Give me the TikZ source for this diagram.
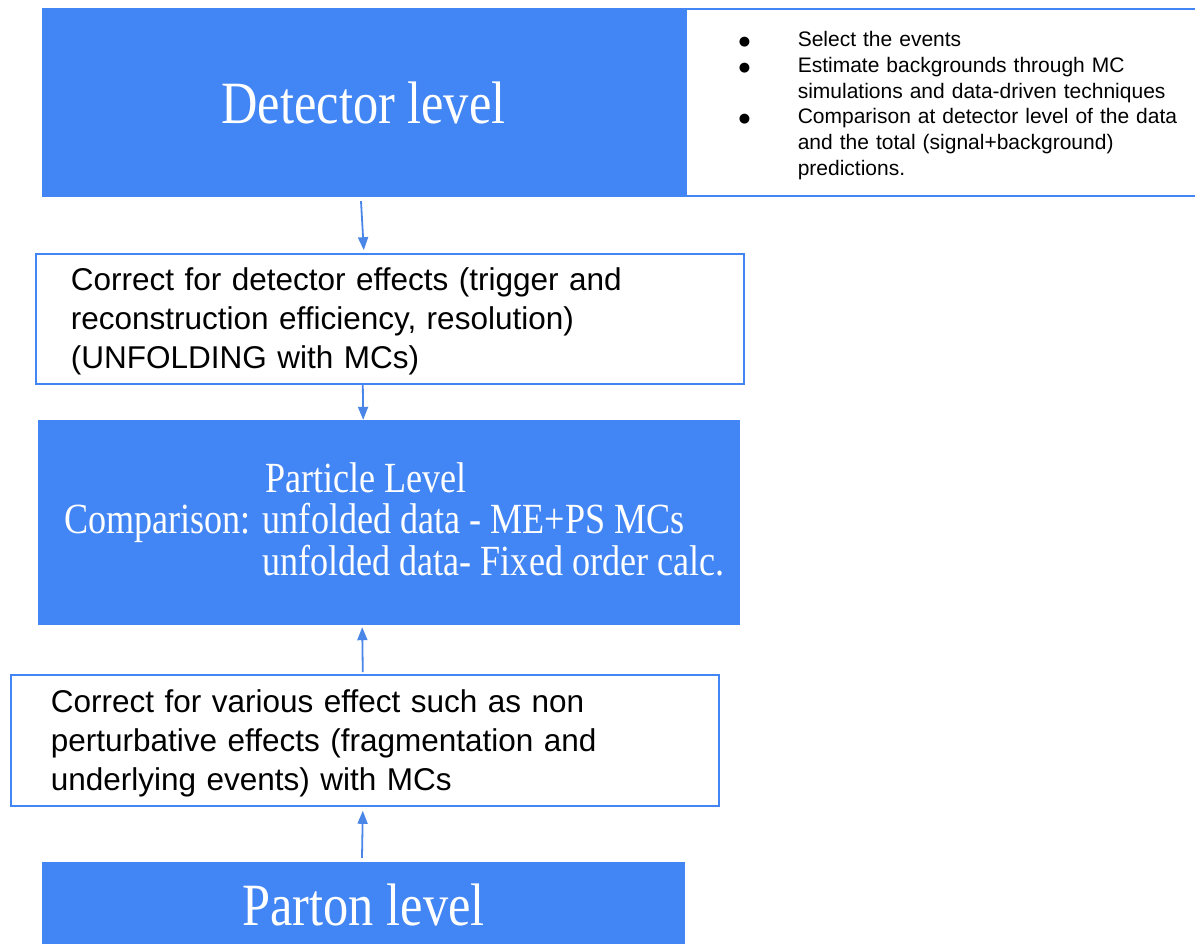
\documentclass[tikz,border=0pt]{standalone}
\usepackage{fontspec}
\setmainfont{Liberation Sans}
\newfontfamily\titlefont[FakeStretch=0.84]{Liberation Serif}
\newfontfamily\symfont{DejaVu Sans}
\usetikzlibrary{arrows.meta}
\definecolor{gblue}{RGB}{66,133,244}
\definecolor{ablue}{RGB}{74,134,232}
\newcommand{\bul}{\makebox[59pt][l]{\raisebox{1pt}{\symfont\fontsize{13}{13}\selectfont ●}}}
\newcommand{\ind}{\hspace*{59pt}}
\begin{document}
\begin{tikzpicture}[x=1pt,y=-1pt,
  bluebox/.style={fill=gblue, draw=none, inner sep=0pt, text=white},
  whitebox/.style={draw=gblue, line width=1.6pt, fill=white, inner ysep=0pt, align=left},
  conn/.style={draw=ablue, line width=1.8pt, -{Triangle[length=13pt,width=10pt]}},
  bigserif/.style={font=\titlefont\fontsize{60}{66}\selectfont},
  bodytext/.style={font=\fontsize{31.5}{39}\selectfont},
  ]
\useasboundingbox[fill=white] (0,0) rectangle (1195,944);

% detector level
\node[bluebox, bigserif, minimum width=643pt, minimum height=189pt] (det) at (363.5,102.5) {Detector level};

% bullet box
\node[whitebox, anchor=west, inner xsep=53pt, text width=470pt, minimum height=187pt,
      font=\fontsize{21}{25.7}\selectfont] (notes) at (685,102.5)
 {\rule{0pt}{21.5pt}\bul Select the events\\
  \bul Estimate backgrounds through MC\\
  \ind simulations and data-driven techniques\\
  \bul Comparison at detector level of the data\\
  \ind and the total (signal+background)\\
  \ind predictions.};

% correct for detector effects
\node[whitebox, bodytext, anchor=west, inner xsep=35pt, text width=638pt, minimum height=130pt] (corr) at (35,319)
 {\rule{0pt}{28pt}Correct for detector effects (trigger and\\
  reconstruction efficiency, resolution)\\
  (UNFOLDING with MCs)};

% particle level
\node[bluebox, anchor=west, inner xsep=26pt, text width=650pt, minimum height=205pt, align=left,
      font=\titlefont\fontsize{43}{41.5}\selectfont] (part) at (38,522.5)
 {\spaceskip=0pt\xspaceskip=0pt
  \mbox{\hspace*{201pt}Particle Level}\\
  \mbox{Comparison: unfolded data - ME+PS MCs}\\
  \mbox{\hspace*{198pt}unfolded data- Fixed order calc.}\rule[-7pt]{0pt}{7pt}};

% non perturbative corrections
\node[whitebox, bodytext, anchor=west, inner xsep=40pt, text width=628pt, minimum height=131pt] (nonp) at (10,740.5)
 {\rule{0pt}{29pt}Correct for various effect such as non\\
  perturbative effects (fragmentation and\\
  underlying events) with MCs};

% parton level
\node[bluebox, bigserif, minimum width=643pt, minimum height=86pt] (parton) at (363.5,905) {Parton level};

% connectors
\draw[conn] ([xshift=-2.5pt,yshift=-4pt]det.south) -- ([xshift=-26pt,yshift=3pt]corr.north);
\draw[conn] ([xshift=-27pt]corr.south) -- ([xshift=-26pt]part.north);
\draw[conn] ([xshift=-2pt,yshift=2pt]nonp.north) -- ([xshift=-27pt,yshift=-2pt]part.south);
\draw[conn] ([xshift=-1.5pt,yshift=4pt]parton.north) -- ([xshift=-2pt,yshift=-4pt]nonp.south);
\end{tikzpicture}
\end{document}
